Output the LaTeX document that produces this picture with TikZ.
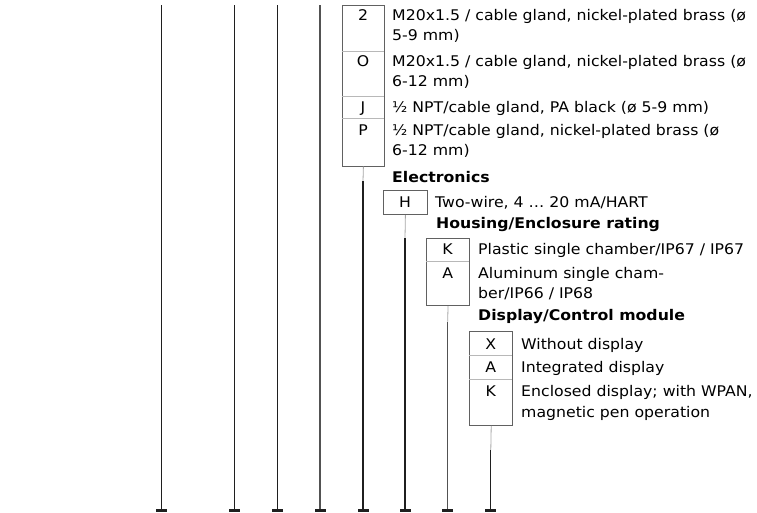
\documentclass[tikz,border=0pt]{standalone}
\usepackage{fontspec}
\setmainfont[FakeStretch=1.07]{DejaVu Sans}
\begin{document}
\begin{tikzpicture}[x=1pt,y=-1pt,
  font=\fontsize{14.7}{19.5}\selectfont,
  lab/.style={anchor=base, inner sep=0pt},
  txt/.style={anchor=base west, inner sep=0pt},
  head/.style={anchor=base west, inner sep=0pt, font=\fontsize{14.7}{19.5}\selectfont\bfseries},
  blk/.style={draw=black!88, line width=1.2pt},
  blkb/.style={draw=black!68, line width=1.2pt},
  gry/.style={draw=black!35, line width=0.8pt},
  boxo/.style={draw=black!62, line width=0.8pt, inner sep=0pt, anchor=north west},
  divl/.style={draw=black!28, line width=0.8pt},
  foot/.style={fill=black!88, inner sep=0pt, minimum width=11pt, minimum height=2.4pt, anchor=south}
]
\useasboundingbox (0,0) rectangle (757,512);

% ---------- boxes ----------
\node[boxo, minimum width=42.6pt, minimum height=160.7pt] (b1) at (341.7,5) {};
\node[boxo, minimum width=43.4pt, minimum height=24.3pt] (b2) at (383.3,190) {};
\node[boxo, minimum width=43.3pt, minimum height=67pt] (b3) at (426,238.3) {};
\node[boxo, minimum width=43pt, minimum height=93.7pt] (b4) at (469.3,331.3) {};

% dividers
\coordinate (d11) at (341.7,51.7);  \coordinate (d12) at (384.3,51.7);
\coordinate (d21) at (341.7,96.7);  \coordinate (d22) at (384.3,96.7);
\coordinate (d31) at (341.7,118);   \coordinate (d32) at (384.3,118);
\draw[divl] (d11) -- (d12) (d21) -- (d22) (d31) -- (d32);
\coordinate (k1) at (426,261.7); \coordinate (k2) at (469.3,261.7);
\draw[divl] (k1) -- (k2);
\coordinate (x1) at (469.3,355.5); \coordinate (x2) at (512.3,355.5);
\coordinate (y1) at (469.3,379);   \coordinate (y2) at (512.3,379);
\draw[divl] (x1) -- (x2) (y1) -- (y2);

% ---------- long vertical lines ----------
\coordinate (t1) at (161.7,5); \coordinate (e1) at (161.7,511.7);
\coordinate (t2) at (234.3,5); \coordinate (e2) at (234.3,511.7);
\coordinate (t3) at (277.3,5); \coordinate (e3) at (277.3,511.7);
\coordinate (t4) at (320,5);   \coordinate (e4) at (320,511.7);
\coordinate (e5) at (363,511.7);
\coordinate (e6) at (405,511.7);
\coordinate (e7) at (447.65,511.7);
\coordinate (e8) at (490.8,511.7);
\draw[blk] (t1) -- (e1);
\draw[blk] (t2) -- (e2);
\draw[blk] (t3) -- (e3);
\draw[blkb] (t4) -- (e4);

% connectors from boxes
\coordinate (g1) at (363,181);
\coordinate (g2) at (405,238);
\coordinate (g3) at (447.65,321.7);
\coordinate (g4) at (490.8,450);
\draw[gry] (b1.south) -- (g1); \draw[blk] (g1) -- (e5);
\draw[gry] (b2.south) -- (g2); \draw[blk] (g2) -- (e6);
\draw[gry] (b3.south) -- (g3); \draw[blkb] (g3) -- (e7);
\draw[gry] (b4.south) -- (g4); \draw[blk] (g4) -- (e8);

% feet
\foreach \i in {1,...,8} { \node[foot] (f\i) at (e\i) {}; }

% ---------- texts: box 1 ----------
\node[lab] (l2) at (363,20.7) {2};
\node[txt] (s2a) at (392,20.7) {M20x1.5 / cable gland, nickel-plated brass (ø};
\node[txt] (s2b) at (392,40.4) {5-9 mm)};
\node[lab] (lO) at (363,66.4) {O};
\node[txt] (sOa) at (392,66.4) {M20x1.5 / cable gland, nickel-plated brass (ø};
\node[txt] (sOb) at (392,86.1) {6-12 mm)};
\node[lab] (lJ) at (363,112.6) {J};
\node[txt] (sJ) at (392,112.6) {½ NPT/cable gland, PA black (ø 5-9 mm)};
\node[lab] (lP) at (363,135.4) {P};
\node[txt] (sPa) at (392,135.4) {½ NPT/cable gland, nickel-plated brass (ø};
\node[txt] (sPb) at (392,155.2) {6-12 mm)};

% ---------- electronics ----------
\node[head] (h1) at (392,182.1) {Electronics};
\node[lab] (lH) at (405,207.2) {H};
\node[txt] (sH) at (435,207.2) {Two-wire, 4 … 20 mA/HART};

% ---------- housing ----------
\node[head] (h2) at (436,228.8) {Housing/Enclosure rating};
\node[lab] (lK) at (447.65,254.8) {K};
\node[txt] (sK) at (478,254.8) {Plastic single chamber/IP67 / IP67};
\node[lab] (lA) at (447.65,278.1) {A};
\node[txt] (sAa) at (478,278.1) {Aluminum single cham-};
\node[txt] (sAb) at (478,298.3) {ber/IP66 / IP68};

% ---------- display ----------
\node[head] (h3) at (478,320.2) {Display/Control module};
\node[lab] (lX) at (490.8,349.2) {X};
\node[txt] (sX) at (521,349.2) {Without display};
\node[lab] (lA2) at (490.8,372.6) {A};
\node[txt] (sA2) at (521,372.6) {Integrated display};
\node[lab] (lK2) at (490.8,396.1) {K};
\node[txt] (sK2a) at (521,396.1) {Enclosed display; with WPAN,};
\node[txt] (sK2b) at (521,417.4) {magnetic pen operation};
\end{tikzpicture}
\end{document}
